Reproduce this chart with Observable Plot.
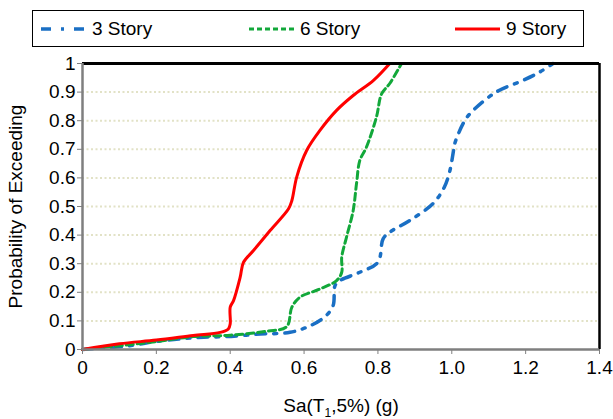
<!DOCTYPE html>
<html>
<head>
<meta charset="utf-8">
<script src="https://cdn.jsdelivr.net/npm/d3@7"></script>
<script src="https://cdn.jsdelivr.net/npm/@observablehq/plot@0.6"></script>
<style>
  body { margin: 0; background: #fff; font-family: "Liberation Sans", Arial, sans-serif; }
  #wrap { position: relative; width: 613px; height: 419px; background: #fff; }
  #legend { position: absolute; left: 32px; top: 10px; width: 552px; height: 37px; box-sizing: border-box; border: 1px solid #000; background: #fff; }
  .item { position: absolute; top: 0; height: 35px; display: flex; align-items: center; font-size: 19px; color: #000; white-space: nowrap; }
  .item svg { margin-right: 6px; }
  #chart { position: absolute; left: 0; top: 52px; }
</style>
</head>
<body>
<div id="wrap">
  <div id="legend"></div>
  <div id="chart"></div>
</div>
<script>
// Fragility curves: Sa(T1,5%) in g against probability of exceeding
const seriesNames = ["3 Story", "6 Story", "9 Story"];
const seriesColors = ["#1a6fc4", "#12a83a", "#ff0000"];
const seriesDash = ["10,8,3,8", "7,4", null];
const seriesWidth = [3.5, 3, 3];

const sa3 = [0, 0.12, 0.21, 0.328, 0.39, 0.481, 0.562, 0.62, 0.661, 0.679, 0.684, 0.697, 0.751, 0.80, 0.814, 0.832, 0.886, 0.949, 0.98, 0.995, 1.004, 1.008, 1.035, 1.058, 1.12, 1.193, 1.238, 1.274];
const p3  = [0, 0.012, 0.03, 0.043, 0.045, 0.054, 0.06, 0.085, 0.12, 0.155, 0.224, 0.241, 0.27, 0.305, 0.387, 0.41, 0.451, 0.51, 0.568, 0.626, 0.69, 0.72, 0.80, 0.836, 0.90, 0.941, 0.97, 1.0];

const sa6 = [0, 0.10, 0.20, 0.30, 0.40, 0.50, 0.553, 0.567, 0.589, 0.640, 0.688, 0.702, 0.702, 0.715, 0.733, 0.742, 0.751, 0.769, 0.796, 0.810, 0.832, 0.864];
const p6  = [0, 0.013, 0.028, 0.045, 0.05, 0.064, 0.08, 0.148, 0.183, 0.21, 0.241, 0.27, 0.323, 0.393, 0.486, 0.580, 0.661, 0.708, 0.813, 0.894, 0.93, 1.0];

const sa9 = [0, 0.10, 0.20, 0.30, 0.373, 0.395, 0.400, 0.400, 0.409, 0.427, 0.436, 0.463, 0.508, 0.558, 0.567, 0.580, 0.607, 0.643, 0.688, 0.733, 0.788, 0.832];
const p9  = [0, 0.02, 0.033, 0.049, 0.06, 0.072, 0.09, 0.148, 0.171, 0.253, 0.305, 0.346, 0.416, 0.492, 0.521, 0.603, 0.696, 0.766, 0.836, 0.888, 0.941, 1.0];

const xTicks = [0, 0.2, 0.4, 0.6, 0.8, 1.0, 1.2, 1.4];
const yTicks = [0, 0.1, 0.2, 0.3, 0.4, 0.5, 0.6, 0.7, 0.8, 0.9, 1];
const gridTicks = [0.1, 0.2, 0.3, 0.4, 0.5, 0.6, 0.7, 0.8, 0.9];

const xs = [sa3, sa6, sa9];
const ys = [p3, p6, p9];
const curves = xs.map((arr, i) => arr.map((x, j) => ({x, y: ys[i][j]})));

// legend row
const legendX = [8, 216, 422];
const legend = document.getElementById("legend");
seriesNames.forEach((name, i) => {
  const item = document.createElement("div");
  item.className = "item";
  item.style.left = legendX[i] + "px";
  const dash = seriesDash[i] ? ` stroke-dasharray="${i === 0 ? "10,10,3,10" : "5,3"}"` : "";
  item.innerHTML = `<svg width="45" height="10"><line x1="0" y1="5" x2="45" y2="5" stroke="${seriesColors[i]}" stroke-width="${seriesWidth[i]}"${dash}/></svg><span>${name}</span>`;
  legend.appendChild(item);
});

const chart = Plot.plot({
  width: 613,
  height: 367,
  marginTop: 11,
  marginBottom: 70,
  marginLeft: 82,
  marginRight: 14,
  style: { fontFamily: "'Liberation Sans', Arial, sans-serif", fontSize: "19px", color: "#000", background: "#fff", overflow: "visible" },
  x: { domain: [0, 1.4] },
  y: { domain: [0, 1] },
  marks: [
    Plot.ruleY(gridTicks, { stroke: "#e2e2c6", strokeWidth: 2, strokeDasharray: "2,2.5" }),
    ...curves.map((data, i) => Plot.line(data, {
      x: "x", y: "y",
      curve: "catmull-rom",
      stroke: seriesColors[i],
      strokeWidth: seriesWidth[i],
      strokeDasharray: seriesDash[i] ?? undefined,
      strokeLinejoin: "round"
    })),
    Plot.ruleY([1], { stroke: "#000", strokeWidth: 3 }),
    Plot.ruleX([1.4], { stroke: "#000", strokeWidth: 2.5 }),
    Plot.ruleX([0], { stroke: "#7f7f7f", strokeWidth: 2.5 }),
    Plot.ruleY([0], { stroke: "#7f7f7f", strokeWidth: 2.5 }),
    Plot.axisX({
      ticks: xTicks, tickSize: 5, tickPadding: 6, stroke: "#7f7f7f",
      tickFormat: d => d === 0 ? "0" : d.toFixed(1),
      label: "Sa(T1,5%) (g)", labelAnchor: "center", labelArrow: "none", labelOffset: 62
    }),
    Plot.axisY({
      ticks: yTicks, tickSize: 5, tickPadding: 2, stroke: "#7f7f7f",
      tickFormat: d => String(d),
      label: "Probability of Exceeding", labelAnchor: "center", labelArrow: "none", labelOffset: 74
    })
  ]
});

// subscript for T1 in the x-axis label
d3.select(chart).selectAll("text").each(function () {
  if (this.textContent === "Sa(T1,5%) (g)") {
    this.innerHTML = 'Sa(T<tspan dy="5" font-size="12">1</tspan><tspan dy="-5">,5%) (g)</tspan>';
  }
});

document.getElementById("chart").appendChild(chart);
</script>
</body>
</html>
